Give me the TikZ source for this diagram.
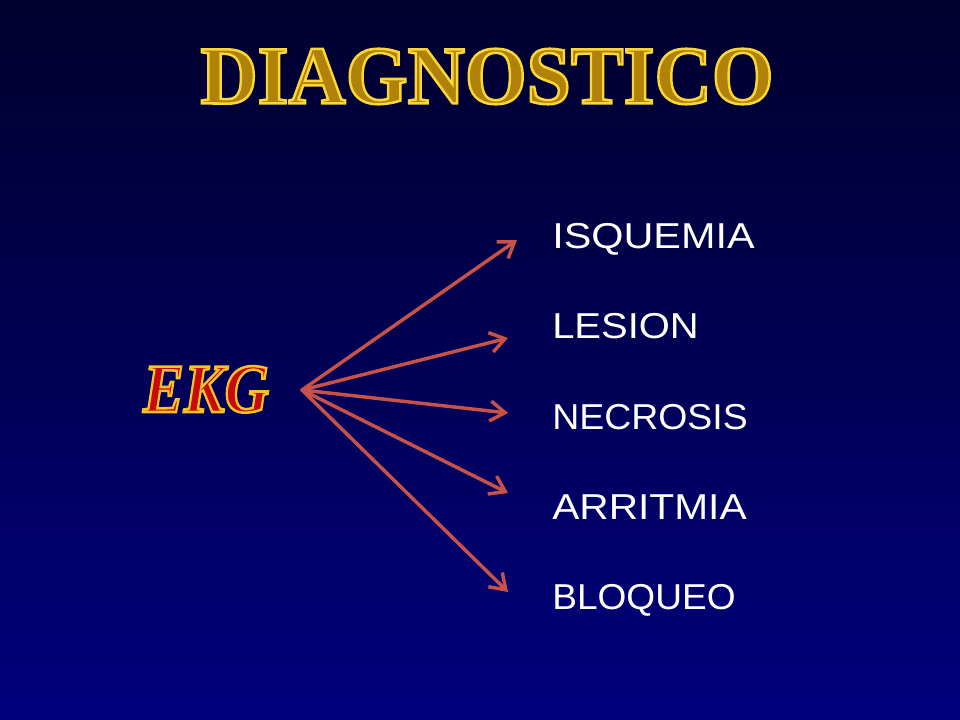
\documentclass[tikz,border=0pt]{standalone}
\usepackage{fontspec}
\usepackage{graphicx}
\usetikzlibrary{arrows.meta}
\setmainfont{Liberation Serif}
\newfontfamily\labelfont{Liberation Sans}
\definecolor{bgtop}{RGB}{0,0,45}
\definecolor{bgbot}{RGB}{0,0,125}
\definecolor{goldfill}{RGB}{176,130,8}
\definecolor{ekgred}{RGB}{200,10,10}
\definecolor{arrowc}{RGB}{200,82,72}
% text render mode 2 = fill and stroke (stroke width, stroke colour)
\newcommand{\outlinetext}[3]{\special{pdf:literal direct 2 Tr #1 w #2 RG}#3\special{pdf:literal direct 0 Tr}}
\newcommand{\titlefont}{\fontsize{62}{64}\selectfont\bfseries}
\tikzset{
  lbl/.style={anchor=base west, inner sep=0pt, text=white, font=\labelfont\fontsize{27}{30}\selectfont},
  fanarrow/.style={draw=arrowc, line width=2.6pt, line cap=round,
    -{Straight Barb[length=11pt,width=15pt,line width=2.6pt]}},
}
\begin{document}
\begin{tikzpicture}[x=0.75pt,y=-0.75pt]
\shade[top color=bgtop, bottom color=bgbot] (0,0) rectangle (960,720);
\useasboundingbox (0,0) rectangle (960,720);
\node[inner sep=0pt] (title) at (487,76.5)
  {\titlefont\scalebox{0.96}[1]{\textcolor{goldfill}{\outlinetext{1.9}{0.98 0.84 0.22}{DIAGNOSTICO}}}};
\node[anchor=base, inner sep=0pt] (ekg) at (206,412)
  {\fontsize{52}{54}\selectfont\bfseries\itshape\scalebox{0.88}[1]{\textcolor{ekgred}{\outlinetext{1.9}{0.97 0.76 0.16}{EKG}}}};
\node[lbl] (isq) at (552,249) {\scalebox{1.15}[1]{ISQUEMIA}};
\node[lbl] (les) at (552,339) {\scalebox{1.11}[1]{LESION}};
\node[lbl] (nec) at (552,429) {\scalebox{1.04}[1]{NECROSIS}};
\node[lbl] (arr) at (552,519) {\scalebox{1.13}[1]{ARRITMIA}};
\node[lbl] (blo) at (552,609) {\scalebox{1.03}[1]{BLOQUEO}};
\coordinate (src) at (302,390);
\coordinate (e1) at (517,240);
\coordinate (e2) at (508,338);
\coordinate (e3) at (508,413);
\coordinate (e4) at (508,493);
\coordinate (e5) at (508,592);
\draw[fanarrow] (src) -- (e1);
\draw[fanarrow] (src) -- (e2);
\draw[fanarrow] (src) -- (e3);
\draw[fanarrow] (src) -- (e4);
\draw[fanarrow] (src) -- (e5);
\end{tikzpicture}
\end{document}
